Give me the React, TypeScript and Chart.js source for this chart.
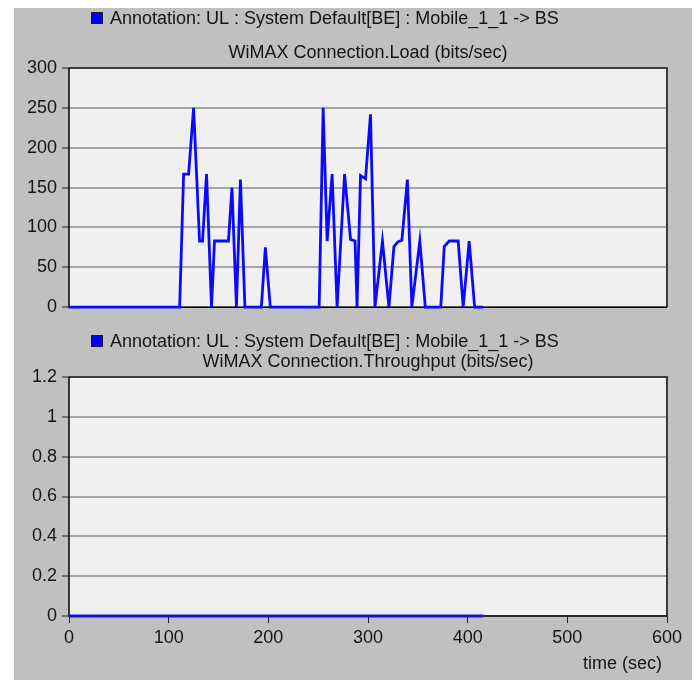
import React, { useEffect, useRef } from "react";
import { Chart, registerables } from "chart.js";

Chart.register(...registerables);

// Connection load samples (time in seconds, load in bits/sec)
const loadTimes = [0, 111, 115, 120, 125, 131, 134, 138, 143, 146, 160, 163.5, 168, 172, 176.5, 193, 197, 202, 251, 255, 259, 264, 269, 276.5, 282.5, 287, 289, 292.5, 297.5, 302.5, 307, 314.5, 321, 326, 330, 334, 339.5, 344, 352, 357.5, 373, 376.5, 381.5, 390.5, 395.5, 401.5, 407, 415.5];
const loadValues = [0, 0, 167, 167, 250, 83, 83, 167, 0, 83, 83, 150, 0, 160, 0, 0, 75, 0, 0, 250, 83, 167, 0, 167, 85, 83, 0, 165, 161, 242, 0, 83, 0, 76, 82, 84, 160, 0, 83, 0, 0, 76, 83, 83, 0, 83, 0, 0];

// Connection throughput samples
const throughputTimes = [0, 415.5];
const throughputValues = [0, 0];

const legendLabel = "Annotation: UL : System Default[BE] : Mobile_1_1 -> BS";
const loadTitle = "WiMAX Connection.Load (bits/sec)";
const throughputTitle = "WiMAX Connection.Throughput (bits/sec)";
const timeAxisLabel = "time (sec)";
const timeTicks = { min: 0, max: 600, step: 100 };
const loadTicks = { min: 0, max: 300, step: 50 };
const throughputTicks = { min: 0, max: 1.2, step: 0.2 };

const FONT = "'Liberation Sans', Arial, sans-serif";
const FONT_SIZE = 18;
const TEXT = "#141414";

type PanelOpts = {
  title: string;
  legendY: number;
  titleY: number;
  showTime: boolean;
};

const panelPlugin = (p: PanelOpts) => ({
  id: "panelDecor",
  beforeDraw(chart: any) {
    const { ctx, chartArea: a } = chart;
    ctx.save();
    ctx.fillStyle = "#f0f0f0";
    ctx.fillRect(a.left, a.top, a.right - a.left, a.bottom - a.top);
    ctx.restore();
  },
  beforeDatasetsDraw(chart: any) {
    const { ctx, chartArea: a } = chart;
    ctx.save();
    ctx.strokeStyle = "#3c3c3c";
    ctx.lineWidth = 2;
    ctx.beginPath();
    ctx.moveTo(a.left, a.top);
    ctx.lineTo(a.right, a.top);
    ctx.lineTo(a.right, a.bottom);
    ctx.stroke();
    ctx.strokeStyle = "#000";
    ctx.lineWidth = 1.5;
    ctx.beginPath();
    ctx.moveTo(a.left, a.top);
    ctx.lineTo(a.left, a.bottom);
    ctx.lineTo(a.right, a.bottom);
    ctx.stroke();
    ctx.restore();
  },
  afterDraw(chart: any) {
    const { ctx, chartArea: a } = chart;
    ctx.save();
    ctx.font = `${FONT_SIZE}px ${FONT}`;
    ctx.fillStyle = TEXT;
    ctx.textBaseline = "middle";
    // legend swatch and label
    ctx.fillStyle = "#0000ff";
    ctx.fillRect(77, p.legendY - 6, 12, 12);
    ctx.strokeStyle = "#202020";
    ctx.lineWidth = 1;
    ctx.strokeRect(77.5, p.legendY - 5.5, 11, 11);
    ctx.fillStyle = TEXT;
    ctx.textAlign = "left";
    ctx.fillText(legendLabel, 96, p.legendY + 1);
    // chart title
    ctx.textAlign = "center";
    ctx.fillText(p.title, (a.left + a.right) / 2, p.titleY);
    if (p.showTime) {
      ctx.textAlign = "right";
      ctx.fillText(timeAxisLabel, a.right - 5, a.bottom + 48);
    }
    ctx.restore();
  },
});

function makeChart(
  canvas: HTMLCanvasElement,
  times: number[],
  values: number[],
  yTicks: { min: number; max: number; step: number },
  color: string,
  p: PanelOpts,
  padTop: number,
  padBottom: number
) {
  const tickFont = { family: FONT, size: FONT_SIZE };
  return new Chart(canvas, {
    type: "line",
    data: {
      datasets: [
        {
          data: times.map((t, i) => ({ x: t, y: values[i] })),
          borderColor: color,
          borderWidth: 2.8,
          pointRadius: 0,
          tension: 0,
          clip: 4,
        },
      ],
    },
    options: {
      responsive: false,
      animation: false,
      layout: { padding: { left: 0, right: 25, top: padTop, bottom: padBottom } },
      plugins: { legend: { display: false }, tooltip: { enabled: false } },
      scales: {
        x: {
          type: "linear",
          min: timeTicks.min,
          max: timeTicks.max,
          display: p.showTime,
          ticks: {
            stepSize: timeTicks.step,
            color: TEXT,
            font: tickFont,
            padding: 4,
            maxRotation: 0,
          },
          grid: {
            drawOnChartArea: false,
            tickLength: 7,
            tickColor: "#222",
            tickWidth: 1,
          },
          border: { display: false },
          afterFit: (s: any) => {
            s.height = p.showTime ? 64 : 0;
          },
        },
        y: {
          min: yTicks.min,
          max: yTicks.max,
          ticks: {
            stepSize: yTicks.step,
            color: TEXT,
            font: tickFont,
            padding: 5,
            callback: (v: number) => String(parseFloat(Number(v).toFixed(2))),
          },
          grid: {
            color: "#a6a6a6",
            lineWidth: 2,
            tickLength: 7,
            tickColor: "#222",
            tickWidth: 1,
          },
          border: { display: false },
          afterFit: (s: any) => {
            s.width = 55;
          },
        },
      },
    },
    plugins: [panelPlugin(p)],
  } as any);
}

export default function App() {
  const topRef = useRef<HTMLCanvasElement>(null);
  const bottomRef = useRef<HTMLCanvasElement>(null);

  useEffect(() => {
    const c1 = makeChart(
      topRef.current!,
      loadTimes,
      loadValues,
      loadTicks,
      "#0a0aff",
      { title: loadTitle, legendY: 10, titleY: 45, showTime: false },
      60,
      10
    );
    const c2 = makeChart(
      bottomRef.current!,
      throughputTimes,
      throughputValues,
      throughputTicks,
      "#1414c8",
      { title: throughputTitle, legendY: 21, titleY: 42, showTime: true },
      57,
      0
    );
    return () => {
      c1.destroy();
      c2.destroy();
    };
  }, []);

  return (
    <div style={{ position: "absolute", left: 0, top: 0, width: 700, height: 680, background: "#fff", overflow: "hidden" }}>
      <div style={{ position: "absolute", left: 14, top: 8, width: 678, height: 672, background: "#c0c0c0" }} />
      <canvas ref={topRef} width={678} height={315} style={{ position: "absolute", left: 14, top: 8, width: 678, height: 315 }} />
      <canvas ref={bottomRef} width={678} height={360} style={{ position: "absolute", left: 14, top: 320, width: 678, height: 360 }} />
    </div>
  );
}
